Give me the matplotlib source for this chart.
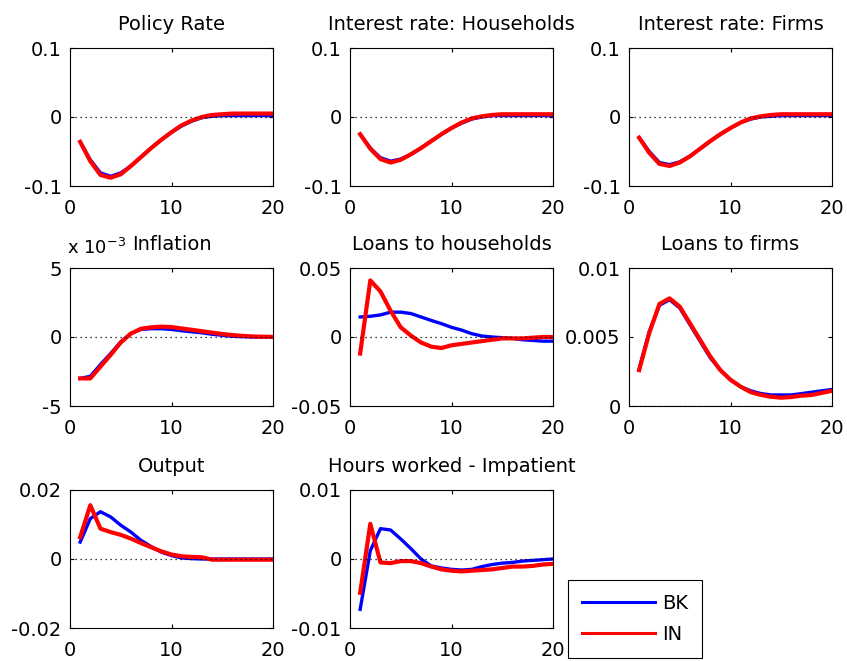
import numpy as np
import matplotlib
matplotlib.use("Agg")
import matplotlib.pyplot as plt
from matplotlib.lines import Line2D

plt.rcParams["font.family"] = ["DejaVu Sans"]
plt.rcParams["font.size"] = 14
plt.rcParams["mathtext.default"] = "regular"

periods = np.arange(1, 21)

titles = ["Policy Rate", "Interest rate: Households", "Interest rate: Firms",
          "Inflation", "Loans to households", "Loans to firms",
          "Output", "Hours worked - Impatient"]

# impulse responses, BK model
policy_bk = [-0.036, -0.062, -0.081, -0.086, -0.081, -0.071, -0.058, -0.045, -0.033, -0.022,
             -0.013, -0.006, -0.001, 0.001, 0.002, 0.002, 0.002, 0.002, 0.002, 0.002]
rate_hh_bk = [-0.025, -0.045, -0.059, -0.064, -0.061, -0.054, -0.045, -0.035, -0.025, -0.016,
              -0.009, -0.003, 0.000, 0.002, 0.002, 0.002, 0.002, 0.002, 0.002, 0.002]
rate_f_bk = [-0.030, -0.050, -0.066, -0.069, -0.065, -0.057, -0.046, -0.035, -0.025, -0.016,
             -0.008, -0.003, 0.000, 0.001, 0.002, 0.002, 0.002, 0.002, 0.002, 0.002]
infl_bk = [-3.0e-3, -2.85e-3, -2.0e-3, -1.2e-3, -0.35e-3, 0.25e-3, 0.55e-3, 0.6e-3, 0.6e-3, 0.55e-3,
           0.45e-3, 0.38e-3, 0.3e-3, 0.2e-3, 0.12e-3, 0.05e-3, 0.02e-3, 0.0, 0.0, 0.0]
loans_hh_bk = [0.0145, 0.015, 0.016, 0.018, 0.018, 0.017, 0.0145, 0.012, 0.0097, 0.007,
               0.005, 0.0024, 0.0007, 0.0, -0.0005, -0.001, -0.002, -0.0025, -0.003, -0.003]
loans_f_bk = [0.0027, 0.0054, 0.0073, 0.0077, 0.0071, 0.0059, 0.0047, 0.0035, 0.0026, 0.0019,
              0.0014, 0.0011, 0.0009, 0.0008, 0.0008, 0.0008, 0.0009, 0.001, 0.0011, 0.0012]
output_bk = [0.0049, 0.0117, 0.0137, 0.0122, 0.0098, 0.0078, 0.0054, 0.0036, 0.002, 0.001,
             0.0003, 0.0001, 0.0, 0.0, 0.0, 0.0, 0.0, 0.0, 0.0, 0.0]
hours_bk = [-0.0073, 0.0012, 0.0044, 0.0042, 0.0029, 0.0015, 0.0, -0.001, -0.0013, -0.0015,
            -0.0016, -0.0015, -0.0011, -0.0008, -0.0006, -0.0005, -0.0003, -0.0002, -0.0001, 0.0]

# impulse responses, IN model
policy_in = [-0.036, -0.064, -0.084, -0.088, -0.083, -0.071, -0.058, -0.045, -0.033, -0.022,
             -0.012, -0.005, 0.000, 0.003, 0.004, 0.005, 0.005, 0.005, 0.005, 0.005]
rate_hh_in = [-0.025, -0.046, -0.061, -0.066, -0.062, -0.054, -0.045, -0.035, -0.025, -0.016,
              -0.008, -0.002, 0.001, 0.003, 0.004, 0.004, 0.004, 0.004, 0.004, 0.004]
rate_f_in = [-0.030, -0.052, -0.068, -0.071, -0.066, -0.057, -0.046, -0.035, -0.025, -0.016,
             -0.008, -0.002, 0.001, 0.003, 0.004, 0.004, 0.004, 0.004, 0.004, 0.004]
infl_in = [-3.0e-3, -3.0e-3, -2.15e-3, -1.3e-3, -0.4e-3, 0.25e-3, 0.6e-3, 0.7e-3, 0.75e-3, 0.72e-3,
           0.62e-3, 0.52e-3, 0.42e-3, 0.32e-3, 0.22e-3, 0.14e-3, 0.08e-3, 0.04e-3, 0.02e-3, 0.01e-3]
loans_hh_in = [-0.012, 0.041, 0.033, 0.019, 0.007, 0.001, -0.004, -0.007, -0.008, -0.006,
               -0.005, -0.004, -0.003, -0.002, -0.001, -0.001, -0.001, -0.0005, 0.0, 0.0]
loans_f_in = [0.0026, 0.0053, 0.0074, 0.0078, 0.0072, 0.006, 0.0048, 0.0036, 0.0026, 0.0019,
              0.0014, 0.001, 0.0008, 0.00067, 0.0006, 0.00065, 0.00075, 0.0008, 0.00095, 0.0011]
output_in = [0.0063, 0.0156, 0.0088, 0.0078, 0.007, 0.0059, 0.0046, 0.0034, 0.0022, 0.0013,
             0.0008, 0.0006, 0.0005, -0.0002, -0.0002, -0.0002, -0.0002, -0.0002, -0.0002, -0.0002]
hours_in = [-0.0049, 0.0051, -0.0005, -0.0006, -0.0003, -0.0003, -0.0006, -0.0011, -0.0015, -0.0017,
            -0.0018, -0.0017, -0.0016, -0.0015, -0.0013, -0.0011, -0.0011, -0.001, -0.0008, -0.0007]

bk = [policy_bk, rate_hh_bk, rate_f_bk, infl_bk, loans_hh_bk, loans_f_bk, output_bk, hours_bk]
inn = [policy_in, rate_hh_in, rate_f_in, infl_in, loans_hh_in, loans_f_in, output_in, hours_in]

yticks = [[-0.1, 0, 0.1], [-0.1, 0, 0.1], [-0.1, 0, 0.1],
          [-5e-3, 0, 5e-3], [-0.05, 0, 0.05], [0, 0.005, 0.01],
          [-0.02, 0, 0.02], [-0.01, 0, 0.01]]
yticklabels = [["-0.1", "0", "0.1"], ["-0.1", "0", "0.1"], ["-0.1", "0", "0.1"],
               ["-5", "0", "5"], ["-0.05", "0", "0.05"], ["0", "0.005", "0.01"],
               ["-0.02", "0", "0.02"], ["-0.01", "0", "0.01"]]

W, H = 847, 661
fig = plt.figure(figsize=(W / 100, H / 100), dpi=100)

lefts = [70, 350, 629]
tops = [48, 268, 490]
aw, ah = 203, 138

for k in range(8):
    r, c = divmod(k, 3)
    ax = fig.add_axes([lefts[c] / W, 1 - (tops[r] + ah) / H, aw / W, ah / H])
    ax.plot(periods, bk[k], color=(0, 0, 1), lw=2.4)
    ax.plot(periods, inn[k], color=(1, 0, 0), lw=3.0)
    ax.axhline(0, color="k", lw=0.9, ls=(0, (1, 3)))
    ax.set_xlim(0, 20)
    ax.set_xticks([0, 10, 20])
    ax.set_ylim(yticks[k][0], yticks[k][-1])
    ax.set_yticks(yticks[k])
    ax.set_yticklabels(yticklabels[k])
    ax.tick_params(direction="in", top=True, right=True, length=3, width=0.8,
                   labelsize=14)
    ax.tick_params(axis="x", pad=9)
    ax.tick_params(axis="y", pad=6)
    for s in ax.spines.values():
        s.set_linewidth(0.8)
    ax.set_title(titles[k], fontsize=14, pad=13)
    if k == 3:
        # scale factor for the inflation axis
        ax.text(-0.015, 1 + 14 / ah, r"x 10$^{-3}$", transform=ax.transAxes, fontsize=13,
                ha="left", va="baseline")

handles = [Line2D([], [], color=(0, 0, 1), lw=2.2), Line2D([], [], color=(1, 0, 0), lw=2.2)]
leg = fig.legend(handles, ["BK", "IN"], loc="upper left",
                 bbox_to_anchor=(568 / W, 1 - 580 / H), borderaxespad=0,
                 fancybox=False, edgecolor="k", framealpha=1, fontsize=14,
                 handlelength=3.75, handletextpad=0.4, labelspacing=0.65, borderpad=0.7)
leg.get_frame().set_linewidth(0.8)

fig.savefig("out.png", dpi=100, facecolor="white")
